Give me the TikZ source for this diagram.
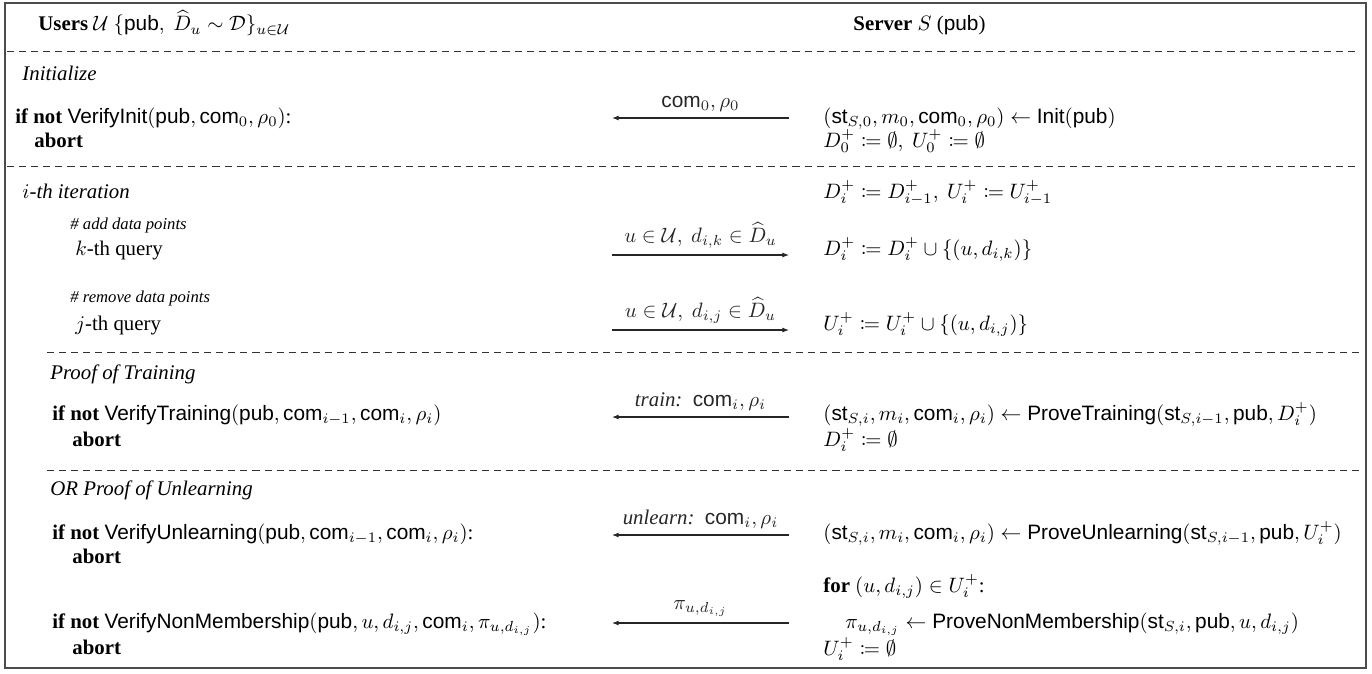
\documentclass[tikz,border=0pt]{standalone}
\usepackage{amsmath,amssymb,mathtools}
\usepackage[no-math]{fontspec}
\setmainfont{Liberation Serif}
\setsansfont{Liberation Sans}
\usetikzlibrary{arrows.meta}
\newcommand{\alg}[1]{\text{\sffamily #1}}
\begin{document}
\begin{tikzpicture}[x=0.48pt,y=-0.48pt,
  txt/.style={anchor=base west, inner sep=0pt},
  lbl/.style={midway, above=2pt, inner sep=1pt},
  msg/.style={line width=0.5pt, black!85, -{Latex[length=3.2pt,width=2.4pt]}},
  sep/.style={dash pattern=on 3.4pt off 2.4pt, line width=0.4pt, black!80},
  frame/.style={draw=black!70, line width=0.7pt}]
\useasboundingbox (0,0) rectangle (1372,673);
\draw[frame] (5,3) rectangle (1366,668);
% header
\node[txt] (uhead) at (38,31) {\textbf{Users} $\mathcal{U}$ $\{\alg{pub},\ \widehat{D}_u\sim\mathcal{D}\}_{u\in\mathcal{U}}$};
\node[txt] (shead) at (853,31) {\textbf{Server} $S$ (\alg{pub})};
% separators
\coordinate (d1l) at (7,51);  \coordinate (d1r) at (1360,51);
\coordinate (d2l) at (7,166); \coordinate (d2r) at (1360,166);
\coordinate (d3l) at (47,352); \coordinate (d3r) at (1360,352);
\coordinate (d4l) at (47,470); \coordinate (d4r) at (1360,470);
\draw[sep] (d1l) -- (d1r);
\draw[sep] (d2l) -- (d2r);
\draw[sep] (d3l) -- (d3r);
\draw[sep] (d4l) -- (d4r);
% initialize
\node[txt] (init) at (22,80) {\textit{Initialize}};
\node[txt] (vi) at (15,123) {\textbf{if not} $\alg{VerifyInit}(\alg{pub}, \alg{com}_0, \rho_0)$:};
\node[txt] (ab1) at (34,147) {\textbf{abort}};
\node[txt] (sinit) at (823,123) {$(\alg{st}_{S,0}, m_0, \alg{com}_0, \rho_0) \leftarrow \alg{Init}(\alg{pub})$};
\node[txt] (sd0) at (823,147) {$D_0^+ \coloneqq \emptyset,\ U_0^+ \coloneqq \emptyset$};
\coordinate (a1s) at (789,118); \coordinate (a1e) at (612,118);
\draw[msg] (a1s) -- node[lbl] (l1) {$\alg{com}_0, \rho_0$} (a1e);
% iteration
\node[txt] (iter) at (22,198) {\textit{$i$-th iteration}};
\node[txt] (sdi) at (823,198) {$D_i^+ \coloneqq D_{i-1}^+,\ U_i^+ \coloneqq U_{i-1}^+$};
\node[txt] (cadd) at (70,229) {\footnotesize\textit{\# add data points}};
\node[txt] (kq) at (75,255) {$k$-th query};
\node[txt] (sadd) at (823,255) {$D_i^+ \coloneqq D_i^+ \cup \{(u, d_{i,k})\}$};
\coordinate (a2s) at (612,255); \coordinate (a2e) at (789,255);
\draw[msg] (a2s) -- node[lbl] (l2) {$u\in\mathcal{U},\ d_{i,k}\in\widehat{D}_u$} (a2e);
\node[txt] (crem) at (70,302) {\footnotesize\textit{\# remove data points}};
\node[txt] (jq) at (75,330) {$j$-th query};
\node[txt] (srem) at (823,330) {$U_i^+ \coloneqq U_i^+ \cup \{(u, d_{i,j})\}$};
\coordinate (a3s) at (612,330); \coordinate (a3e) at (789,330);
\draw[msg] (a3s) -- node[lbl] (l3) {$u\in\mathcal{U},\ d_{i,j}\in\widehat{D}_u$} (a3e);
% proof of training
\node[txt] (pot) at (50,379) {\textit{Proof of Training}};
\node[txt] (vt) at (52,420) {\textbf{if not} $\alg{VerifyTraining}(\alg{pub}, \alg{com}_{i-1}, \alg{com}_i, \rho_i)$};
\node[txt] (ab2) at (72,446) {\textbf{abort}};
\node[txt] (spt) at (823,420) {$(\alg{st}_{S,i}, m_i, \alg{com}_i, \rho_i) \leftarrow \alg{ProveTraining}(\alg{st}_{S,i-1}, \alg{pub}, D_i^+)$};
\node[txt] (sdz) at (823,446) {$D_i^+ \coloneqq \emptyset$};
\coordinate (a4s) at (789,417); \coordinate (a4e) at (612,417);
\draw[msg] (a4s) -- node[lbl] (l4) {\textit{train:}\ \ $\alg{com}_i, \rho_i$} (a4e);
% proof of unlearning
\node[txt] (pou) at (50,495) {\textit{OR Proof of Unlearning}};
\node[txt] (vu) at (52,539) {\textbf{if not} $\alg{VerifyUnlearning}(\alg{pub}, \alg{com}_{i-1}, \alg{com}_i, \rho_i)$:};
\node[txt] (ab3) at (72,563) {\textbf{abort}};
\node[txt] (spu) at (823,539) {$(\alg{st}_{S,i}, m_i, \alg{com}_i, \rho_i) \leftarrow \alg{ProveUnlearning}(\alg{st}_{S,i-1}, \alg{pub}, U_i^+)$};
\coordinate (a5s) at (789,535); \coordinate (a5e) at (612,535);
\draw[msg] (a5s) -- node[lbl] (l5) {\textit{unlearn:}\ \ $\alg{com}_i, \rho_i$} (a5e);
% non-membership
\node[txt] (sfor) at (823,592) {\textbf{for} $(u, d_{i,j}) \in U_i^+$:};
\node[txt] (vnm) at (52,628) {\textbf{if not} $\alg{VerifyNonMembership}(\alg{pub}, u, d_{i,j}, \alg{com}_i, \pi_{u,d_{i,j}})$:};
\node[txt] (ab4) at (72,654) {\textbf{abort}};
\node[txt] (spi) at (845,628) {$\pi_{u,d_{i,j}} \leftarrow \alg{ProveNonMembership}(\alg{st}_{S,i}, \alg{pub}, u, d_{i,j})$};
\node[txt] (suz) at (823,655) {$U_i^+ \coloneqq \emptyset$};
\coordinate (a6s) at (789,623); \coordinate (a6e) at (612,623);
\draw[msg] (a6s) -- node[lbl] (l6) {$\pi_{u,d_{i,j}}$} (a6e);
\end{tikzpicture}
\end{document}
